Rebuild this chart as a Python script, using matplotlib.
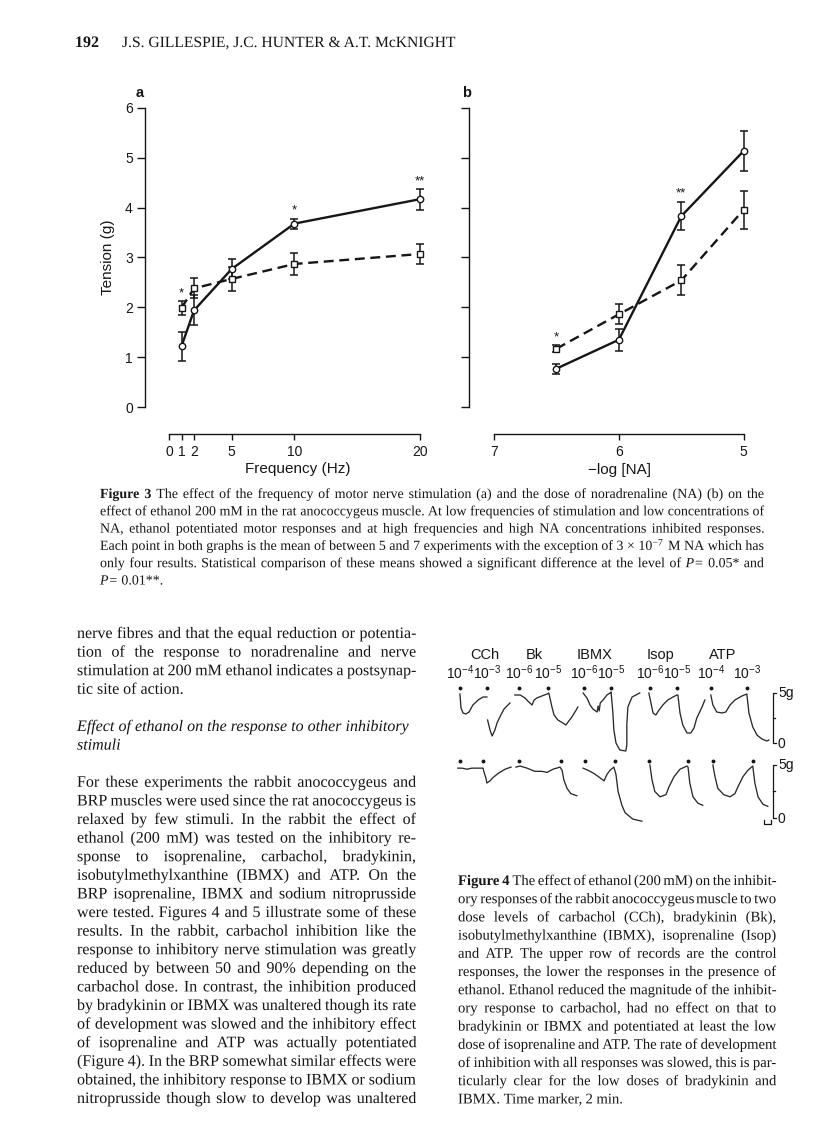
import numpy as np
import matplotlib
matplotlib.use('Agg')
import matplotlib.pyplot as plt
import matplotlib.patheffects as pe

plt.rcParams['mathtext.fontset'] = 'custom'
plt.rcParams['mathtext.rm'] = 'Liberation Serif'
plt.rcParams['mathtext.it'] = 'Liberation Serif:italic'
plt.rcParams['mathtext.sf'] = 'Liberation Sans'

nan = np.nan

# ---- Figure 3a : tension vs frequency
freq = [1, 2, 5, 10, 20]
a_ctrl = [1.22, 1.94, 2.77, 3.68, 4.17]
a_ctrl_err = [0.29, 0.30, 0.20, 0.10, 0.21]
a_eth = [1.99, 2.38, 2.57, 2.87, 3.07]
a_eth_err = [0.14, 0.20, 0.24, 0.22, 0.20]
a_stars = [(1, 2.27, '*'), (10, 3.95, '*'), (20, 4.53, '**')]

# ---- Figure 3b : tension vs -log[NA]
nalog = [6.5, 6.0, 5.5, 5.0]
b_ctrl = [0.77, 1.35, 3.83, 5.14]
b_ctrl_err = [0.10, 0.22, 0.28, 0.40]
b_eth = [1.17, 1.86, 2.54, 3.96]
b_eth_err = [0.07, 0.20, 0.30, 0.38]
b_stars = [(6.5, 1.40, '*'), (5.5, 4.28, '**')]

# ---- Figure 4 : chart records, time in min, tension in g
cch_up_t = [5.7, 6.0, 6.6, 7.4, 8.3, 9.4, 10.9, 12.3, 13.4, nan, 13.6, 14.3, 14.9, 15.7, 16.3, 17.1, 18.3, 20.0]
cch_up_g = [4.9, 3.5, 3.0, 2.9, 3.1, 3.8, 4.3, 4.6, 4.6, nan, 2.3, 1.3, 0.7, 1.3, 2.0, 2.6, 3.4, 4.0]
bk_up_t = [21.4, 22.9, 24.3, 25.1, 26.3, 26.9, 27.7, 29.1, 30.6, 31.1, 32.0, 32.6, 33.7, 35.1, 36.0, 36.6, 37.7, 39.1, 39.4]
bk_up_g = [4.8, 4.8, 4.5, 4.2, 3.8, 4.3, 4.5, 4.7, 4.9, 5.0, 3.6, 2.8, 2.3, 2.0, 1.8, 2.1, 2.6, 3.4, 3.6]
ibmx_up_t = [40.9, 42.0, 42.9, 43.7, 44.9, 45.2, 45.5, 45.8, 46.6, 47.7, 48.6, 48.9, 49.4, 49.7, 50.3, 51.4, 53.1, 53.4, 53.4, 53.7, 54.9, 57.1]
ibmx_up_g = [5.0, 4.5, 3.8, 3.4, 3.1, 3.7, 3.2, 4.0, 4.3, 4.8, 5.0, 5.1, 3.1, 1.3, 0.0, -0.7, -0.8, -0.2, 1.8, 3.6, 4.6, 5.0]
isop_up_t = [59.7, 60.3, 60.9, 61.7, 62.6, 63.7, 65.1, 66.6, 67.7, 68.0, 68.6, 69.4, 70.6, 71.7, 72.6, 73.4, 74.9, 75.7]
isop_up_g = [5.0, 4.0, 3.0, 2.8, 3.3, 3.8, 4.3, 4.6, 4.8, 4.8, 3.0, 1.8, 1.0, 1.0, 1.5, 2.5, 3.6, 4.3]
atp_up_t = [77.4, 78.0, 79.1, 80.6, 81.7, 82.9, 84.3, 86.3, 87.7, 88.3, 89.4, 90.6, 92.0, 93.4, 94.0]
atp_up_g = [4.8, 3.8, 3.1, 3.0, 3.1, 3.8, 4.3, 4.7, 4.9, 3.0, 1.6, 0.8, 0.4, 0.2, 0.3]

cch_lo_t = [5.1, 6.3, 7.7, 9.1, 10.6, 12.3, 12.6, 13.1, 13.4, 14.3, 15.1, 16.6, 18.6, 20.3]
cch_lo_g = [4.7, 4.7, 4.6, 4.7, 4.7, 4.7, 4.3, 3.8, 3.3, 3.5, 3.8, 4.2, 4.6, 4.8]
bk_lo_t = [21.7, 22.9, 24.9, 27.1, 29.1, 30.6, 32.3, 34.3, 34.9, 35.4, 36.3, 37.4, 39.1]
bk_lo_g = [4.8, 4.9, 4.7, 4.4, 4.4, 4.3, 4.6, 4.8, 4.5, 3.6, 2.8, 2.3, 2.1]
ibmx_lo_t = [40.9, 42.3, 44.0, 45.7, 46.9, 47.7, 48.6, 49.7, 50.3, 50.9, 52.0, 52.9, 55.1, 57.7]
ibmx_lo_g = [4.7, 4.5, 4.2, 3.8, 3.5, 4.1, 4.5, 4.8, 4.1, 2.5, 1.2, 0.5, -0.1, -0.3]
isop_lo_t = [60.0, 60.6, 61.4, 62.9, 64.6, 65.4, 66.9, 68.6, 70.6, 70.9, 71.4, 72.3, 73.7, 75.1]
isop_lo_g = [5.0, 3.6, 2.5, 2.0, 2.2, 2.9, 3.9, 4.6, 4.9, 4.8, 3.3, 2.0, 1.4, 1.2]
atp_lo_t = [78.0, 78.6, 79.4, 81.1, 82.9, 84.3, 85.1, 86.6, 88.0, 89.4, 90.0, 90.9, 92.3, 93.7]
atp_lo_g = [5.0, 3.9, 2.8, 2.2, 2.0, 2.3, 2.9, 3.9, 4.5, 4.9, 3.3, 2.0, 1.3, 1.1]

dose_up_t = [5.7, 13.4, 22.6, 30.9, 41.1, 48.9, 60.0, 67.7, 77.4, 87.7]
dose_lo_t = [5.7, 12.3, 22.6, 34.6, 41.4, 50.0, 59.7, 70.9, 78.0, 89.4]
dose_labels = ['-4', '-3', '-6', '-5', '-6', '-5', '-6', '-5', '-4', '-3']
drugs = ['CCh', 'Bk', 'IBMX', 'Isop', 'ATP']
drug_t = [12.9, 27.1, 44.3, 62.9, 80.9]

# ---- page text
header_num = '192'
header_auth = 'J.S. GILLESPIE, J.C. HUNTER & A.T. McKNIGHT'
cap3 = [
    'Figure 3 The effect of the frequency of motor nerve stimulation (a) and the dose of noradrenaline (NA) (b) on the',
    'effect of ethanol 200 mM in the rat anococcygeus muscle. At low frequencies of stimulation and low concentrations of',
    'NA, ethanol potentiated motor responses and at high frequencies and high NA concentrations inhibited responses.',
    'Each point in both graphs is the mean of between 5 and 7 experiments with the exception of 3 \u00d7 10$^{-7}$ M NA which has',
    'only four results. Statistical comparison of these means showed a significant difference at the level of _P= 0.05* and',
    '_P= 0.01**.',
]
body1 = [
    'nerve fibres and that the equal reduction or potentia-',
    'tion of the response to noradrenaline and nerve',
    'stimulation at 200 mM ethanol indicates a postsynap-',
    'tic site of action.',
]
heading = ['Effect of ethanol on the response to other inhibitory', 'stimuli']
body2 = [
    'For these experiments the rabbit anococcygeus and',
    'BRP muscles were used since the rat anococcygeus is',
    'relaxed by few stimuli. In the rabbit the effect of',
    'ethanol (200 mM) was tested on the inhibitory re-',
    'sponse to isoprenaline, carbachol, bradykinin,',
    'isobutylmethylxanthine (IBMX) and ATP. On the',
    'BRP isoprenaline, IBMX and sodium nitroprusside',
    'were tested. Figures 4 and 5 illustrate some of these',
    'results. In the rabbit, carbachol inhibition like the',
    'response to inhibitory nerve stimulation was greatly',
    'reduced by between 50 and 90% depending on the',
    'carbachol dose. In contrast, the inhibition produced',
    'by bradykinin or IBMX was unaltered though its rate',
    'of development was slowed and the inhibitory effect',
    'of isoprenaline and ATP was actually potentiated',
    '(Figure 4). In the BRP somewhat similar effects were',
    'obtained, the inhibitory response to IBMX or sodium',
    'nitroprusside though slow to develop was unaltered',
]
cap4 = [
    'Figure 4 The effect of ethanol (200 mM) on the inhibit-',
    'ory responses of the rabbit anococcygeus muscle to two',
    'dose levels of carbachol (CCh), bradykinin (Bk),',
    'isobutylmethylxanthine (IBMX), isoprenaline (Isop)',
    'and ATP. The upper row of records are the control',
    'responses, the lower the responses in the presence of',
    'ethanol. Ethanol reduced the magnitude of the inhibit-',
    'ory response to carbachol, had no effect on that to',
    'bradykinin or IBMX and potentiated at least the low',
    'dose of isoprenaline and ATP. The rate of development',
    'of inhibition with all responses was slowed, this is par-',
    'ticularly clear for the low doses of bradykinin and',
    'IBMX. Time marker, 2 min.',
]

W, H = 816, 1142
fig = plt.figure(figsize=(W / 100, H / 100), dpi=100, facecolor='white')
rend = fig.canvas.get_renderer()
INK = '#161616'
SANS = 'Liberation Sans'
SERIF = 'Liberation Serif'
ASPATH = [pe.Normal()]   # draw words as outlines, so baselines do not jitter


def px_axes(l, t, r, b):
    return fig.add_axes([l / W, 1 - b / H, (r - l) / W, (b - t) / H])


def natural_width(line, size):
    t = fig.text(0, 0, line.replace('_', ''), fontsize=size, family=SERIF)
    w = t.get_window_extent(rend).width
    t.remove()
    return w


def fit_size(lines, width, s0=10.0):
    # typical size at which the justified lines fill their column
    return s0 * float(np.median([width / natural_width(l, s0) for l in lines]))


def text_line(x0, x1, y, line, size, bold=0, italic=False, justify=True):
    words = line.split(' ')
    arts = []
    for i, w in enumerate(words):
        it = italic or w.startswith('_')
        s = w[1:] if w.startswith('_') else w
        arts.append(fig.text(0, 1 - y / H, s, fontsize=size, family=SERIF, color=INK,
                             fontweight='bold' if i < bold else 'normal',
                             fontstyle='italic' if it else 'normal', va='baseline',
                             path_effects=ASPATH))
    widths = [a.get_window_extent(rend).width for a in arts]
    em = size * 100 / 72
    gap = em * 0.25
    if justify and len(words) > 1:
        gap = (x1 - x0 - sum(widths)) / (len(words) - 1)
        if gap < 0.14 * em:
            # line too long: squeeze this one line a little
            k = (x1 - x0) / (sum(widths) + 0.2 * em * (len(words) - 1))
            for a in arts:
                a.set_fontsize(size * k)
            widths = [a.get_window_extent(rend).width for a in arts]
            gap = (x1 - x0 - sum(widths)) / (len(words) - 1)
    x = x0
    for a, w in zip(arts, widths):
        a.set_x(x / W)
        x += w + gap


def style_axes(ax, xb, yb):
    for s in ['top', 'right']:
        ax.spines[s].set_visible(False)
    ax.spines['left'].set_bounds(*yb)
    ax.spines['bottom'].set_bounds(*xb)
    ax.spines['bottom'].set_position(('outward', 16))
    for s in ['left', 'bottom']:
        ax.spines[s].set_linewidth(1.0)
        ax.spines[s].set_color(INK)
    ax.tick_params(axis='y', length=5.8, width=1.0, pad=3, labelsize=10, colors=INK)
    ax.tick_params(axis='x', length=4.5, width=1.0, pad=3, labelsize=10, colors=INK)
    for lab in ax.get_xticklabels() + ax.get_yticklabels():
        lab.set_family(SANS)
    ax.patch.set_visible(False)


def draw_pair(ax, x, c, ce, e, ee):
    kw = dict(fmt='none', ecolor=INK, elinewidth=1.1, capsize=3, capthick=1.1)
    ax.errorbar(x, c, yerr=ce, **kw)
    ax.errorbar(x, e, yerr=ee, **kw)
    ax.plot(x, e, color=INK, lw=1.7, dashes=(4.2, 2.4), marker='s', ms=4.2,
            mfc='white', mec=INK, mew=1.0, zorder=3)
    ax.plot(x, c, color=INK, lw=1.7, marker='o', ms=4.6, mfc='white', mec=INK,
            mew=1.0, zorder=4)


# ---------- Figure 3a
ax = px_axes(145, 98, 430, 412)
ax.set_xlim(-1.91, 20.8)
ax.set_ylim(-0.1, 6.2)
draw_pair(ax, freq, a_ctrl, a_ctrl_err, a_eth, a_eth_err)
for x, y, s in a_stars:
    ax.text(x, y, s, ha='center', va='center', fontsize=9.5, family=SANS, color=INK)
ax.set_xticks([0, 1, 2, 5, 10, 20])
ax.set_yticks(range(7))
style_axes(ax, (0, 20), (0, 6))
fig.text(108 / W, 1 - 257 / H, 'Tension (g)', rotation=90, ha='center', va='center',
         fontsize=11, family=SANS, color=INK)
fig.text(298 / W, 1 - 469 / H, 'Frequency (Hz)', ha='center', va='center',
         fontsize=11, family=SANS, color=INK)
fig.text(140 / W, 1 - 93 / H, 'a', ha='center', va='center', fontsize=10.5,
         family=SANS, fontweight='bold', color=INK)

# ---------- Figure 3b
bx = px_axes(469, 98, 760, 412)
bx.set_xlim(7.2, 4.87)
bx.set_ylim(-0.1, 6.2)
draw_pair(bx, nalog, b_ctrl, b_ctrl_err, b_eth, b_eth_err)
for x, y, s in b_stars:
    bx.text(x, y, s, ha='center', va='center', fontsize=9.5, family=SANS, color=INK)
bx.set_xticks([7, 6, 5])
bx.set_yticks(range(7))
bx.set_yticklabels([])
style_axes(bx, (5, 7), (0, 6))
fig.text(619 / W, 1 - 470 / H, '\u2212log [NA]', ha='center', va='center',
         fontsize=11, family=SANS, color=INK)
fig.text(467 / W, 1 - 93 / H, 'b', ha='center', va='center', fontsize=10.5,
         family=SANS, fontweight='bold', color=INK)

# ---------- Figure 4 records
up = px_axes(440, 683, 800, 760)
lo = px_axes(440, 755, 800, 830)
up.set_ylim(-1.7, 6.0)
lo.set_ylim(-1.13, 5.94)
for a in (up, lo):
    a.set_xlim(0, 102.9)
    a.axis('off')
rec = dict(color='#2a2a2a', lw=0.95, solid_joinstyle='round')
for t, g in [(cch_up_t, cch_up_g), (bk_up_t, bk_up_g), (ibmx_up_t, ibmx_up_g),
             (isop_up_t, isop_up_g), (atp_up_t, atp_up_g)]:
    up.plot(t, g, **rec)
for t, g in [(cch_lo_t, cch_lo_g), (bk_lo_t, bk_lo_g), (ibmx_lo_t, ibmx_lo_g),
             (isop_lo_t, isop_lo_g), (atp_lo_t, atp_lo_g)]:
    lo.plot(t, g, **rec)
up.plot(dose_up_t, [5.5] * len(dose_up_t), 'o', ms=1.8, color=INK)
lo.plot(dose_lo_t, [5.4] * len(dose_lo_t), 'o', ms=1.8, color=INK)
for t, s in zip(dose_up_t, dose_labels):
    up.text(t, 7.0, '$\\mathsf{10^{%s}}$' % s.replace('-', '\u2212'), ha='center',
            va='center', fontsize=10, color=INK)
for t, s in zip(drug_t, drugs):
    up.text(t, 8.8, s, ha='center', va='center', fontsize=10.5, family=SANS, color=INK)

# scale bars 0-5 g and time marker 2 min
for a in (up, lo):
    a.plot([96.0, 95.1, 95.1, 96.0], [5, 5, 0, 0], color=INK, lw=0.9)
    a.plot([95.1, 95.8], [2.5, 2.5], color=INK, lw=0.9)
    a.text(96.6, 5.0, '5g', ha='left', va='center', fontsize=10, family=SANS, color=INK)
    a.text(96.6, -0.1, '0', ha='left', va='center', fontsize=10, family=SANS, color=INK)
lo.plot([92.7, 92.7, 94.7, 94.7], [-0.15, -0.55, -0.55, -0.15], color=INK, lw=0.9)

# ---------- page text
auth_size = 10.0 * 333 / natural_width(header_auth, 10.0)
fig.text(75 / W, 1 - 47 / H, header_num, fontsize=auth_size + 0.3, family=SERIF,
         fontweight='bold', color=INK, va='baseline', path_effects=ASPATH)
fig.text(122 / W, 1 - 47 / H, header_auth, fontsize=auth_size, family=SERIF,
         color=INK, va='baseline', path_effects=ASPATH)

c3x0, c3x1 = 100, 764
s3 = fit_size(cap3[:-1], c3x1 - c3x0) * 0.97
for i, line in enumerate(cap3):
    text_line(c3x0, c3x1, 498 + i * 17.3, line, s3, bold=2 if i == 0 else 0,
              justify=i < len(cap3) - 1)

bx0, bx1 = 77, 416
sb = fit_size(body1[:-1] + body2, bx1 - bx0) * 0.97
L = 18.6
y0 = 638
for i, line in enumerate(body1):
    text_line(bx0, bx1, y0 + i * L, line, sb, justify=i < len(body1) - 1)
for i, line in enumerate(heading):
    text_line(bx0, bx1, y0 + (5 + i) * L, line, sb, italic=True, justify=False)
for i, line in enumerate(body2):
    text_line(bx0, bx1, y0 + (8 + i) * L, line, sb)

c4x0, c4x1 = 458, 776
s4 = fit_size(cap4[:-1], c4x1 - c4x0) * 0.97
for i, line in enumerate(cap4):
    text_line(c4x0, c4x1, 885 + i * 18.2, line, s4, bold=2 if i == 0 else 0,
              justify=i < len(cap4) - 1)

fig.savefig('out.png', dpi=100, facecolor='white')
